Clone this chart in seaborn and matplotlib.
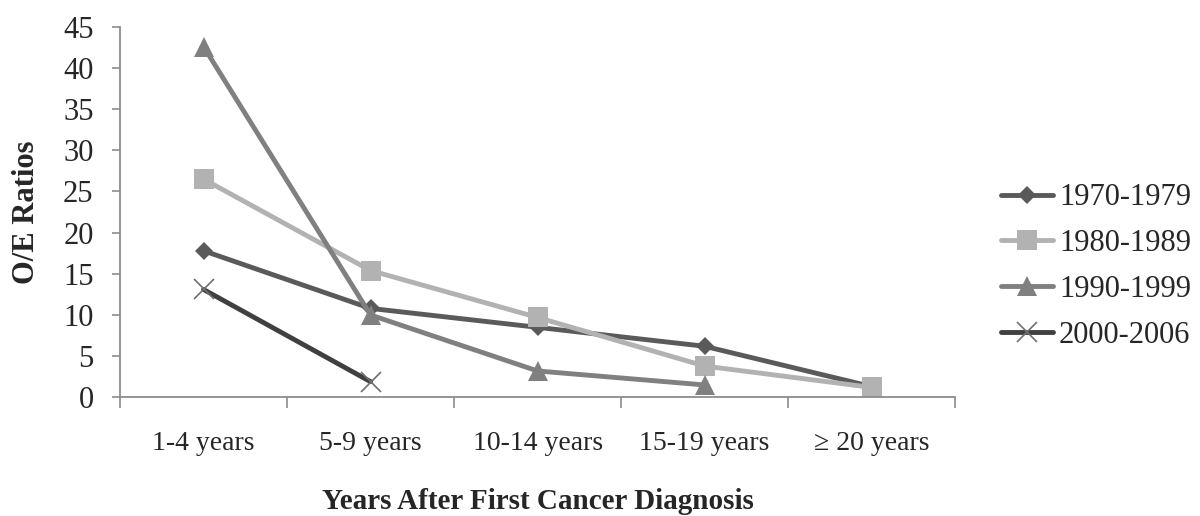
import numpy as np
import pandas as pd
import seaborn as sns
import matplotlib.pyplot as plt

# data
categories = ["1-4 years", "5-9 years", "10-14 years", "15-19 years", "\u2265 20 years"]
periods = ["1970-1979", "1980-1989", "1990-1999", "2000-2006"]
v1970 = [17.8, 10.8, 8.5, 6.2, 1.3]
v1980 = [26.5, 15.4, 9.7, 3.8, 1.2]
v1990 = [42.6, 10.0, 3.2, 1.5, np.nan]
v2000 = [13.1, 1.9, np.nan, np.nan, np.nan]

sns.set_style("white")
plt.rcParams["font.family"] = ["Liberation Serif", "DejaVu Serif"]

colors = ["#5a5a5a", "#b2b2b2", "#808080", "#404040"]
marks = ["D", "s", "^", "x"]
msizes = [9, 14, 14, 15]

fig = plt.figure(figsize=(12, 5.16), dpi=100)
ax = fig.add_axes([0.1, 0.23, 0.696, 0.718])

# one lineplot per period (filled and line markers can't be mixed in one call)
for name, vals, c, m, ms in zip(periods, [v1970, v1980, v1990, v2000], colors, marks, msizes):
    d = pd.DataFrame({"pos": range(len(vals)), "ratio": vals}).dropna()
    if m == "x":
        sns.lineplot(data=d, x="pos", y="ratio", color=c, marker=m, markersize=ms,
                     markeredgecolor="#707070", markeredgewidth=1.2,
                     linewidth=3.5, label=name, ax=ax)
    else:
        sns.lineplot(data=d, x="pos", y="ratio", color=c, marker=m,
                     markersize=ms, markeredgewidth=0,
                     linewidth=3.5, label=name, ax=ax)

ax.set_xlim(-0.5, 4.5)
ax.set_ylim(0, 45)
ax.set_yticks(range(0, 46, 5))
ax.set_xticks(range(5))
ax.set_xticklabels(categories)
ax.set_xticks(np.arange(-0.5, 4.6, 1), minor=True)
ax.tick_params(axis="x", which="major", length=0, pad=24, labelsize=20)
ax.tick_params(axis="x", which="minor", bottom=True, length=8, width=1.2, color="#8c8c8c")
ax.tick_params(axis="y", left=True, length=6, width=1.2, color="#8c8c8c", labelsize=22, pad=13)
for s in ["top", "right"]:
    ax.spines[s].set_visible(False)
for s in ["left", "bottom"]:
    ax.spines[s].set_color("#8c8c8c")
    ax.spines[s].set_linewidth(1.3)

ax.set_xlabel("Years After First Cancer Diagnosis", fontsize=21, fontweight="bold", labelpad=23)
ax.set_ylabel("O/E Ratios", fontsize=22, fontweight="bold", labelpad=16)

ax.legend(title=None, loc="center left", bbox_to_anchor=(1.04, 0.353), frameon=False,
          borderaxespad=0, fontsize=22, handlelength=1.7, handletextpad=0.2,
          labelspacing=0.55)

plt.savefig("out.png", dpi=100)
